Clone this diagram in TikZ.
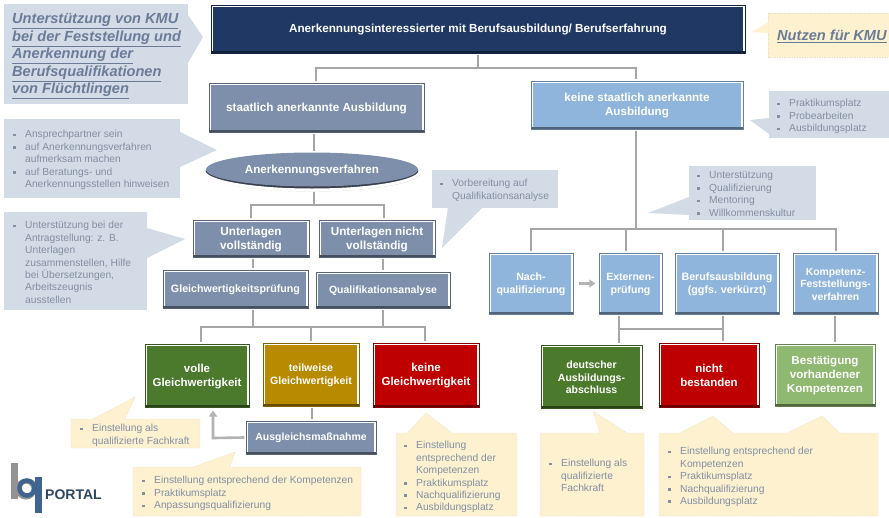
\documentclass[tikz,border=0pt]{standalone}
\usepackage{fontspec}
\setmainfont{Liberation Sans}
\usetikzlibrary{shapes.geometric,shadows,arrows.meta}
\definecolor{navy}{HTML}{1F3864}
\definecolor{slate}{HTML}{7D8FAB}
\definecolor{sky}{HTML}{8FB5DC}
\definecolor{grn}{HTML}{4B7A2C}
\definecolor{gold}{HTML}{B88A00}
\definecolor{rd}{HTML}{BE0000}
\definecolor{lgrn}{HTML}{8FB870}
\definecolor{calgray}{HTML}{D3DBE6}
\definecolor{calyel}{HTML}{FDF1D0}
\definecolor{lsttext}{HTML}{838FA2}
\definecolor{headtext}{HTML}{6B7C99}
\definecolor{conn}{HTML}{A6A6A6}
\definecolor{logoblue}{HTML}{3F6490}
\definecolor{logotext}{HTML}{2F4560}
\tikzset{
  x=1pt,y=-1pt,
  boxnode/.style={rectangle,draw=white,line width=3.4pt,inner sep=0pt,
    drop shadow={shadow xshift=1pt,shadow yshift=-1.5pt,opacity=.4}},
  connector/.style={draw=conn,line width=2.6pt,line join=miter},
  flowarrow/.style={draw=conn!85,line width=2.6pt,-{Triangle[length=6pt,width=8pt]}},
  grayfill/.style={fill=calgray},
  yelfill/.style={fill=calyel,draw=calyel!85!gray,line width=.4pt,dash pattern=on 1.5pt off 1pt},
  lsttextnode/.style={inner sep=0pt,anchor=north west,align=left,text=lsttext,
    font=\fontsize{10.25}{12.4}\selectfont},
  headnode/.style={inner sep=0pt,anchor=north west,align=left,text=headtext,
    font=\fontsize{14.6}{17.5}\selectfont\bfseries\itshape},
}
\newcommand\itm{\rule{0pt}{8pt}\llap{\makebox[12pt][l]{\rule[1.5pt]{2.6pt}{2.6pt}}}}
% name, x0,y0,x1,y1, colour, font size, text
\newcommand\bx[8]{%
  \pgfmathsetmacro\bxls{#7*1.22}%
  \node[boxnode,fill=#6,minimum width={(#4-#2)*1pt},minimum height={(#5-#3)*1pt}] (#1) at ({(#2+#4)/2},{(#3+#5)/2}) {};
  \draw[#6!70!black,line width=.7pt] (#2,#3) rectangle (#4,#5);
  \fill[#6!55!black] (#2,#5-1.8) rectangle (#4,#5);
  \node[inner sep=0pt,align=center,text=white,font=\fontsize{#7}{\bxls}\selectfont\bfseries] (#1-t) at ([yshift=-.8pt]#1.center) {#8};
}
\newcommand\lst[3]{\node[lsttextnode] at (#1,#2-4.4) {#3};}
\begin{document}
\begin{tikzpicture}
\useasboundingbox (0,0) rectangle (889,517);
\fill[white] (0,0) rectangle (889,517);

% gray callouts
\fill[grayfill] (4,4) rectangle (188,104);
\fill[grayfill] (188,15) -- (203,37) -- (188,63) -- cycle;
\fill[grayfill] (4,119) rectangle (180,198);
\fill[grayfill] (180,132) -- (217,150) -- (180,167) -- cycle;
\fill[grayfill] (4,212) rectangle (147,310);
\fill[grayfill] (147,228) -- (185,239) -- (147,258) -- cycle;
\fill[grayfill] (432,170) rectangle (558,208);
\fill[grayfill] (448,207) -- (442,248) -- (483,207) -- cycle;
\fill[grayfill] (769,91) rectangle (889,138);
\fill[grayfill] (769,118) -- (750,120) -- (769,134) -- cycle;
\fill[grayfill] (689,166) rectangle (816,220);
\fill[grayfill] (689,197) -- (648,213) -- (689,215) -- cycle;

% yellow callouts
\path[yelfill] (768,13) rectangle (889,57);
\fill[calyel] (768.5,22) -- (752,32) -- (768.5,33) -- cycle;
\path[yelfill] (71,419) -- (93,419) -- (135,397) -- (125,419) -- (200,419) -- (200,448) -- (71,448) -- cycle;
\path[yelfill] (133,467) -- (193,467) -- (235,452) -- (230,467) -- (361,467) -- (361,516) -- (133,516) -- cycle;
\path[yelfill] (396,433) -- (407,433) -- (426,413) -- (452,433) -- (517,433) -- (517,516) -- (396,516) -- cycle;
\path[yelfill] (540,433) -- (600,433) -- (593,411) -- (627,433) -- (644,433) -- (644,516) -- (540,516) -- cycle;
\path[yelfill] (659,433) -- (680,433) -- (713,416) -- (733,433) -- (787,433) -- (822,416) -- (840,433) -- (878,433) -- (878,516) -- (659,516) -- cycle;

% boxes
\bx{top}{211}{5}{745}{53}{navy}{11.7}{Anerkennungsinteressierter mit Berufsausbildung/ Berufserfahrung}
\bx{sa}{209}{83}{424}{132}{slate}{11.7}{staatlich anerkannte Ausbildung}
\bx{ka}{531}{81}{743}{129}{sky}{11.6}{keine staatlich anerkannte\\Ausbildung}
\node[ellipse,draw=white,line width=3pt,fill=slate!45!black,minimum width=216pt,minimum height=38pt,inner sep=0pt,
  drop shadow={shadow xshift=1pt,shadow yshift=-1.5pt,opacity=.4}] (ell) at (312,171) {};
\fill[slate] (312,169.5) ellipse [x radius=106pt,y radius=17pt];
\node[inner sep=0pt,text=white,font=\fontsize{11.6}{14}\selectfont\bfseries] (ell-t) at (ell.center) {Anerkennungsverfahren};
\bx{uv}{193}{220}{309}{257}{slate}{11.7}{Unterlagen\\vollständig}
\bx{un}{319}{220}{435}{257}{slate}{11.7}{Unterlagen nicht\\vollständig}
\bx{gp}{163}{270}{308}{308}{slate}{10.7}{Gleichwertigkeitsprüfung}
\bx{qa}{316}{272}{450}{308}{slate}{10.5}{Qualifikationsanalyse}
\bx{vg}{145}{344}{249}{407}{grn}{11.5}{volle\\Gleichwertigkeit}
\bx{tg}{263}{343}{359}{406}{gold}{10.6}{teilweise\\Gleichwertigkeit}
\bx{kg}{373}{343}{479}{407}{rd}{11.5}{keine\\Gleichwertigkeit}
\bx{am}{246}{421}{376}{454}{slate}{10.5}{Ausgleichsmaßnahme}
\bx{nq}{489}{253}{573}{314}{sky}{10.6}{Nach-\\qualifizierung}
\bx{ep}{599}{253}{662}{314}{sky}{10.5}{Externen-\\prüfung}
\bx{ba}{675}{253}{779}{314}{sky}{10.7}{Berufsausbildung\\(ggfs. verkürzt)}
\bx{kf}{793}{253}{878}{314}{sky}{10.4}{Kompetenz-\\Feststellungs-\\verfahren}
\bx{da}{541}{345}{642}{408}{grn}{10.5}{deutscher\\Ausbildungs-\\abschluss}
\bx{nb}{659}{343}{759}{407}{rd}{11.5}{nicht\\bestanden}
\bx{bk}{775}{344}{875}{406}{lgrn}{11.6}{Bestätigung\\vorhandener\\Kompetenzen}

% connector junctions
\coordinate (j1) at (478,68);
\coordinate (j2) at (314,205);
\coordinate (j3) at (253,327);
\coordinate (j3b) at (383,327);
\coordinate (j4) at (636,229);
\coordinate (j5) at (619,329);
\coordinate (j5b) at (723,329);
\coordinate (xe) at (626,0);
\coordinate (xb) at (723,0);
\coordinate (xt) at (312,0);
\coordinate (xf) at (619,0);
\coordinate (xk) at (835,0);
\coordinate (corner) at (213,438);
\coordinate (tipv) at (213,410.5);
\coordinate (xsa) at (316,0);
\coordinate (xuv) at (251,0);
\coordinate (xun) at (384,0);
\coordinate (xvg) at (201,0);
\coordinate (xkg) at (425,0);
\coordinate (xtg) at (311,0);
\coordinate (jt) at (311,327);
\coordinate (xkf) at (836,0);

\draw[connector] (top.south -| j1) -- (j1);
\draw[connector] (j1) -| (sa.north -| xsa);
\draw[connector] (j1) -| (ka.north -| j4);
\draw[connector] (sa.south -| j2) -- (ell.north -| j2);
\draw[connector] (ell.south -| j2) -- (j2);
\draw[connector] (j2) -| (uv.north -| xuv);
\draw[connector] (j2) -| (un.north -| xun);
\draw[connector] (uv.south -| j3) -- (gp.north -| j3);
\draw[connector] (un.south -| j3b) -- (qa.north -| j3b);
\draw[connector] (gp.south -| j3) -- (j3);
\draw[connector] (qa.south -| j3b) -- (j3b);
\draw[connector] (j3) -| (vg.north -| xvg);
\draw[connector] (j3b) -| (kg.north -| xkg);
\draw[connector] (j3) -- (j3b);
\draw[connector] (jt) -- (tg.north -| xtg);
\draw[connector] (tg.south -| xt) -- (am.north -| xt);
\draw[connector] (ka.south -| j4) -- (j4);
\draw[connector] (j4) -| (nq.north);
\draw[connector] (j4) -| (kf.north -| xkf);
\draw[connector] (j4) -| (ep.north -| xe);
\draw[connector] (j4) -| (ba.north -| xb);
\draw[connector] (ep.south -| xf) -- (da.north -| xf);
\draw[connector] (ba.south -| xb) -- (nb.north -| xb);
\draw[connector] (j5) -- (j5b);
\draw[connector] (kf.south -| xk) -- (bk.north -| xk);
\draw[flowarrow] (am.west) -- (corner) -- (tipv);
\draw[flowarrow,shorten <=4pt,shorten >=2pt] (nq.east) -- (ep.west);

% texts
\node[headnode] (h1) at (12,13.5) {\underline{Unterstützung von KMU}\\\underline{bei der Feststellung und}\\\underline{Anerkennung der}\\\underline{Berufsqualifikationen}\\\underline{von Flüchtlingen}};
\node[headnode] (h2) at (777,29.5) {\underline{Nutzen für KMU}};

\lst{25}{134}{\itm Ansprechpartner sein\\\itm auf Anerkennungsverfahren\\aufmerksam machen\\\itm auf Beratungs- und\\Anerkennungsstellen hinweisen}
\lst{25}{225}{\itm Unterstützung bei der\\Antragstellung: z. B.\\Unterlagen\\zusammenstellen, Hilfe\\bei Übersetzungen,\\Arbeitszeugnis\\ausstellen}
\lst{452}{183}{\itm Vorbereitung auf\\Qualifikationsanalyse}
\lst{789}{103}{\itm Praktikumsplatz\\\itm Probearbeiten\\\itm Ausbildungsplatz}
\lst{709}{175}{\itm Unterstützung\\\itm Qualifizierung\\\itm Mentoring\\\itm Willkommenskultur}
\lst{92}{428}{\itm Einstellung als\\qualifizierte Fachkraft}
\lst{154}{480}{\itm Einstellung entsprechend der Kompetenzen\\\itm Praktikumsplatz\\\itm Anpassungsqualifizierung}
\lst{416}{445}{\itm Einstellung\\entsprechend der\\Kompetenzen\\\itm Praktikumsplatz\\\itm Nachqualifizierung\\\itm Ausbildungsplatz}
\lst{561}{463}{\itm Einstellung als\\qualifizierte\\Fachkraft}
\lst{680}{451}{\itm Einstellung entsprechend der\\Kompetenzen\\\itm Praktikumsplatz\\\itm Nachqualifizierung\\\itm Ausbildungsplatz}

% logo
\fill[gray!85] (11,463) rectangle (18,499);
\draw[gray!85,line width=5pt] (26,489) circle [radius=8pt];
\draw[logoblue,line width=4.5pt] (27,488) circle [radius=7.5pt];
\fill[logoblue] (35,477) rectangle (42,513);
\node[inner sep=0pt,anchor=west,text=logotext,font=\fontsize{14}{16}\selectfont\bfseries] (pt) at (45,495) {PORTAL};
\end{tikzpicture}
\end{document}
